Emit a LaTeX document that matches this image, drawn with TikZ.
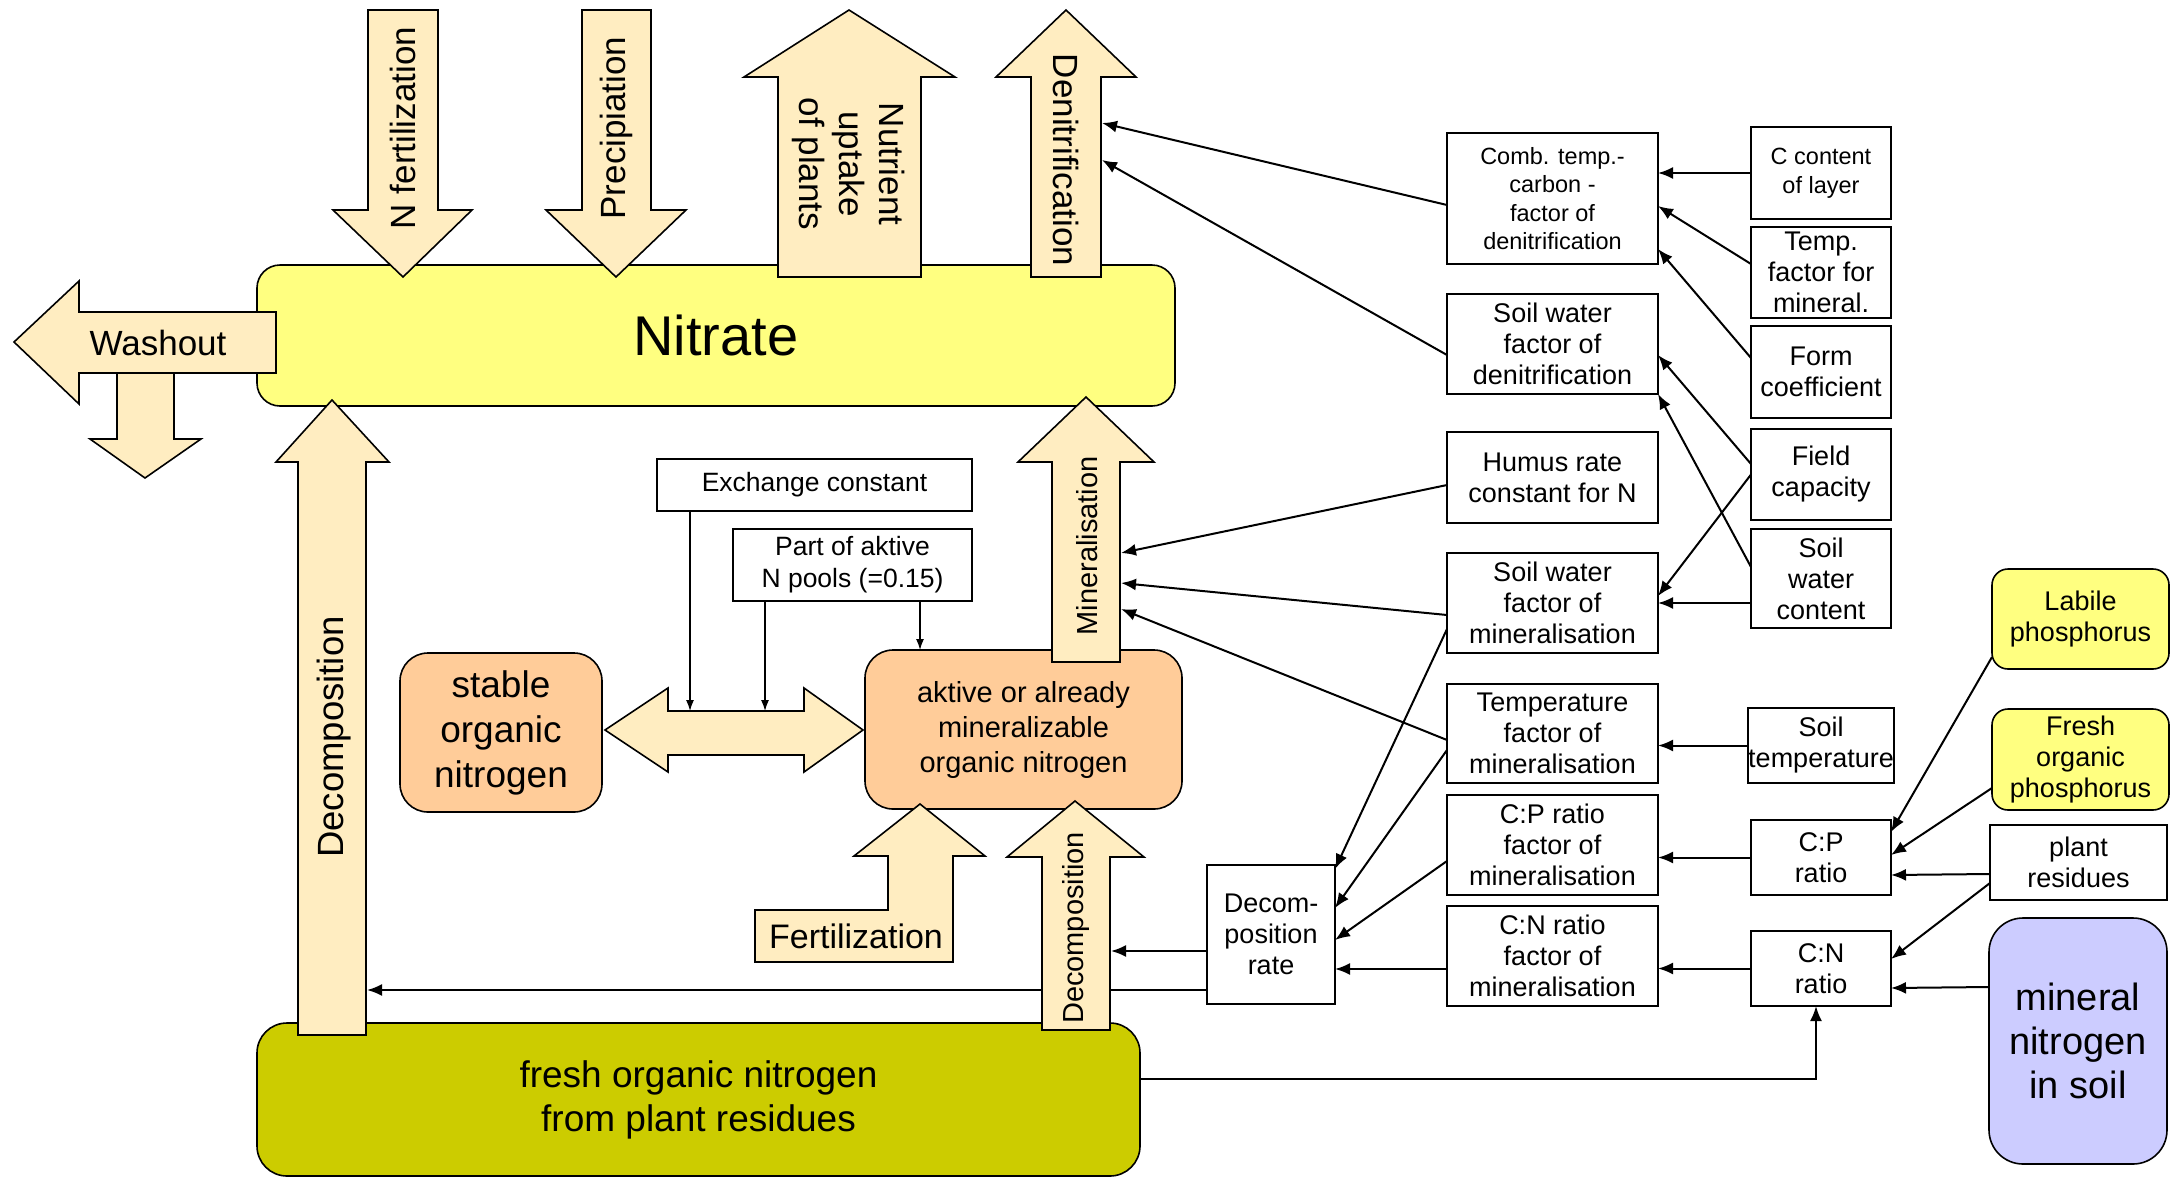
\documentclass[tikz,border=0pt]{standalone}
\usepackage{fontspec}
\setmainfont{Liberation Sans}
\usetikzlibrary{arrows.meta}

\definecolor{flowfill}{HTML}{FFEDC1}
\definecolor{nitratefill}{HTML}{FFFF80}
\definecolor{poolfill}{HTML}{FFCC99}
\definecolor{freshfill}{HTML}{CCCC00}
\definecolor{mineralfill}{HTML}{CCCCFF}

\tikzset{
  every node/.style={inner sep=0pt, outer sep=0pt},
  dims/.style 2 args={minimum width=#1pt, minimum height=#2pt},
  factorbox/.style={draw=black, line width=1.6pt, fill=white, align=center,
    font=\fontsize{27}{31}\selectfont},
  smallbox/.style={factorbox, font=\fontsize{23.5}{28.6}\selectfont},
  poolbox/.style={draw=black, line width=1.6pt, align=center, rounded corners=#1pt},
  flowarrow/.style={draw=black, line width=1.6pt, fill=flowfill, line join=miter},
  flowlabel/.style={align=center, font=\fontsize{35}{40}\selectfont},
  conn/.style={draw=black, line width=2pt, -{Latex[length=15pt,width=12pt]}},
  thinconn/.style={draw=black, line width=1.3pt, -{Latex[length=11pt,width=8pt]}},
}

\begin{document}
\begin{tikzpicture}[x=1pt,y=-1pt]
\useasboundingbox (0,0) rectangle (2172,1179);

% ---------- pools ----------
\node[poolbox=23, fill=nitratefill, dims={918}{141}, font=\fontsize{56}{64}\selectfont]
  (nitrate) at (716,335.5) {Nitrate};
\node[poolbox=30, fill=freshfill, dims={883}{153}, font=\fontsize{37}{44}\selectfont]
  (fresh) at (698.5,1099.5) {fresh organic nitrogen\\from plant residues};
\node[poolbox=28, fill=poolfill, dims={202}{159}, font=\fontsize{37}{45}\selectfont]
  (stable) at (501,732.5) {stable\\organic\\nitrogen};
\node[poolbox=28, fill=poolfill, dims={317}{159}, font=\fontsize{29}{35}\selectfont]
  (aktive) at (1023.5,729.5) {aktive or already\\mineralizable\\organic nitrogen};

% ---------- exchange parameters ----------
\node[smallbox, dims={315}{52}, font=\fontsize{26.5}{30}\selectfont]
  (exch) at (814.5,485) {Exchange constant};
\node[smallbox, dims={239}{72}, font=\fontsize{26.5}{32}\selectfont]
  (part) at (852.5,565) {Part of aktive\\N pools (=0.15)};

% ---------- factor column ----------
\node[smallbox, dims={211}{131}] (comb) at (1552.5,198.5)
  {Comb. temp.-\\carbon -\\factor of\\denitrification};
\node[factorbox, dims={211}{100}] (swd) at (1552.5,344)
  {Soil water\\factor of\\denitrification};
\node[factorbox, dims={211}{91}] (humus) at (1552.5,477.5)
  {Humus rate\\constant for N};
\node[factorbox, dims={211}{100}] (swm) at (1552.5,603)
  {Soil water\\factor of\\mineralisation};
\node[factorbox, dims={211}{99}] (tfm) at (1552.5,733.5)
  {Temperature\\factor of\\mineralisation};
\node[factorbox, dims={211}{100}] (cpf) at (1552.5,845)
  {C:P ratio\\factor of\\mineralisation};
\node[factorbox, dims={211}{100}] (cnf) at (1552.5,956)
  {C:N ratio\\factor of\\mineralisation};
\node[factorbox, dims={128}{139}] (decom) at (1271,934.5)
  {Decom-\\position\\rate};

% ---------- input column ----------
\node[smallbox, dims={140}{92}] (ccl) at (1821,173) {C content\\of layer};
\node[factorbox, dims={140}{91}] (tfmin) at (1821,272.5) {Temp.\\factor for\\mineral.};
\node[factorbox, dims={140}{92}] (form) at (1821,372) {Form\\coefficient};
\node[factorbox, dims={140}{91}] (field) at (1821,474.5) {Field\\capacity};
\node[factorbox, dims={140}{99}] (swc) at (1821,578.5) {Soil\\water\\content};
\node[factorbox, dims={140}{75}] (stemp) at (1821,745.5) {Soil\\temperature};
\node[factorbox, dims={140}{75}] (cpr) at (1821,857.5) {C:P\\ratio};
\node[factorbox, dims={140}{75}] (cnr) at (1821,968.5) {C:N\\ratio};

% ---------- external pools ----------
\node[poolbox=16, fill=nitratefill, dims={177}{100}, font=\fontsize{27}{31}\selectfont]
  (labile) at (2080.5,619) {Labile\\phosphorus};
\node[poolbox=16, fill=nitratefill, dims={177}{101}, font=\fontsize{27}{31}\selectfont]
  (fop) at (2080.5,759.5) {Fresh\\organic\\phosphorus};
\node[factorbox, dims={177}{75}] (plant) at (2078.5,862.5) {plant\\residues};
\node[poolbox=34, fill=mineralfill, dims={178}{246}, font=\fontsize{38}{44}\selectfont]
  (mineral) at (2078,1041) {mineral\\nitrogen\\in soil};

% ---------- points on the flow arrows ----------
\coordinate (denA) at (1102,123);
\coordinate (denB) at (1102,160);
\coordinate (minA) at (1121,553);
\coordinate (minB) at (1121,583);
\coordinate (minC) at (1121,609);
\coordinate (decR) at (1111,951);
\coordinate (decL) at (367,990);
\coordinate (dblA) at (690,711);
\coordinate (dblB) at (765,711);

% ---------- connectors ----------
\draw[conn] ([yshift=-6.5pt]comb.west) -- (denA);
\draw[conn] ([yshift=-11pt]swd.west) -- (denB);
\draw[conn] ([yshift=-7.5pt]humus.west) -- (minA);
\draw[conn] ([yshift=-12pt]swm.west) -- (minB);
\draw[conn] ([yshift=-6.5pt]tfm.west) -- (minC);

\draw[conn] ([yshift=-26pt]swm.west) -- ([yshift=-4pt]decom.north east);
\draw[conn] ([yshift=-16.5pt]tfm.west) -- ([yshift=26.5pt]decom.east);
\draw[conn] ([yshift=-16pt]cpf.west) -- ([yshift=-5.5pt]decom.east);
\draw[conn] ([yshift=-13pt]cnf.west) -- ([yshift=-34.5pt]decom.east);
\draw[conn] ([yshift=-16.5pt]decom.west) -- (decR);
\draw[conn] ([yshift=-55.5pt]decom.west) -- (decL);

\draw[conn] (ccl.west) -- (comb.east |- ccl.west);
\draw[conn] ([yshift=8.5pt]tfmin.west) -- ([yshift=-7.5pt]comb.east);
\draw[conn] ([yshift=14pt]form.west) -- ([yshift=-50.5pt]comb.east);
\draw[conn] ([yshift=10.5pt]field.west) -- ([yshift=-11pt]swd.east);
\draw[conn] ([yshift=11.5pt]swc.west) -- ([yshift=-50pt]swd.east);
\draw[conn] (field.west) -- ([yshift=7pt]swm.east);
\draw[conn] (swc.west |- swm.east) -- (swm.east);
\draw[conn] (stemp.west) -- (tfm.east |- stemp.west);
\draw[conn] (cpr.west) -- (cpf.east |- cpr.west);
\draw[conn] (cnr.west) -- (cnf.east |- cnr.west);

\draw[conn] ([yshift=-38pt]labile.west) -- ([yshift=25.5pt]cpr.east);
\draw[conn] ([yshift=-28.5pt]fop.west) -- ([yshift=2.5pt]cpr.east);
\draw[conn] ([yshift=-11.5pt]plant.west) -- ([yshift=-17.5pt]cpr.east);
\draw[conn] ([yshift=-20.5pt]plant.west) -- ([yshift=9.5pt]cnr.east);
\draw[conn] ([yshift=54pt]mineral.west) -- ([yshift=-19.5pt]cnr.east);
\draw[conn] ([yshift=20.5pt]fresh.east) -| ([xshift=-5pt]cnr.south);

\draw[thinconn] ([xshift=-124.5pt]exch.south) -- (dblA);
\draw[thinconn] ([xshift=-87.5pt]part.south) -- (dblB);
\draw[thinconn] ([xshift=67.5pt]part.south) -- ([xshift=67.5pt]part.south |- aktive.north);

% ---------- flow arrows ----------
% washout to the left and downward leaching
\draw[flowarrow] (117,373) -- (117,439) -- (90,439) -- (145,478) -- (201,439)
  -- (174,439) -- (174,373) -- cycle;
\draw[flowarrow] (276,312) -- (79,312) -- (79,281) -- (14,342) -- (79,404)
  -- (79,373) -- (276,373) -- cycle;
% inputs from above
\draw[flowarrow] (368,10) -- (438,10) -- (438,210) -- (472,210) -- (403,277)
  -- (333,210) -- (368,210) -- cycle;
\draw[flowarrow] (582,10) -- (651,10) -- (651,210) -- (686,210) -- (616,277)
  -- (546,210) -- (582,210) -- cycle;
% outputs upward
\draw[flowarrow] (778,277) -- (778,77) -- (744,77) -- (849,10) -- (955,77)
  -- (921,77) -- (921,277) -- cycle;
\draw[flowarrow] (1031,277) -- (1031,77) -- (996,77) -- (1066,10) -- (1136,77)
  -- (1101,77) -- (1101,277) -- cycle;
% decomposition to nitrate
\draw[flowarrow] (298,1035) -- (298,462) -- (276,462) -- (332,400) -- (389,462)
  -- (366,462) -- (366,1035) -- cycle;
% mineralisation
\draw[flowarrow] (1052,662) -- (1052,462) -- (1018,462) -- (1086,397) -- (1154,462)
  -- (1120,462) -- (1120,662) -- cycle;
% exchange between stable and active pools
\draw[flowarrow] (605,730) -- (668,688) -- (668,711) -- (804,711) -- (804,688)
  -- (863,730) -- (804,772) -- (804,755) -- (668,755) -- (668,772) -- cycle;
% organic fertilization
\draw[flowarrow] (755,910) -- (888,910) -- (888,856) -- (854,856) -- (920,804)
  -- (985,856) -- (953,856) -- (953,962) -- (755,962) -- cycle;
% decomposition to the active pool
\draw[flowarrow] (1042,1030) -- (1042,857) -- (1007,857) -- (1075,801) -- (1144,857)
  -- (1110,857) -- (1110,1030) -- cycle;

% ---------- flow labels ----------
\node[flowlabel, font=\fontsize{35}{40}\selectfont] (lwash) at (158,343) {Washout};
\node[flowlabel, rotate=90] (lnfert) at (403,128) {N fertilization};
\node[flowlabel, rotate=90] (lprec) at (616,128) {Precipiation};
\node[flowlabel, rotate=-90] (lupt) at (849,164) {Nutrient\\uptake\\of plants};
\node[flowlabel, rotate=-90] (lden) at (1066,160) {Denitrification};
\node[flowlabel, rotate=90, font=\fontsize{36.5}{40}\selectfont] (ldecl) at (334,737) {Decomposition};
\node[flowlabel, rotate=90, font=\fontsize{29}{34}\selectfont] (lmin) at (1087,546) {Mineralisation};
\node[flowlabel, rotate=90, font=\fontsize{29}{34}\selectfont] (ldecr) at (1076,928) {Decomposition};
\node[flowlabel, font=\fontsize{34}{40}\selectfont] (lfert) at (856,936) {Fertilization};

\end{tikzpicture}
\end{document}
